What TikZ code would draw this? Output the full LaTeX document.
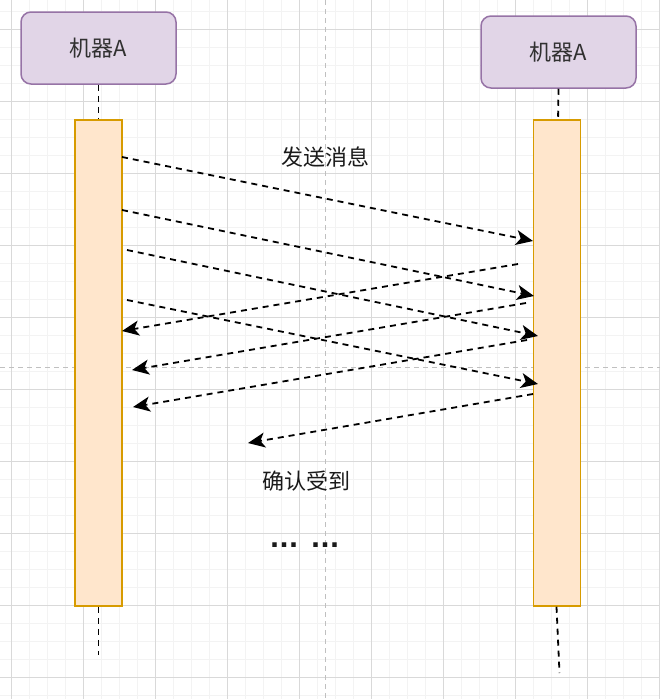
\documentclass[tikz,border=0pt]{standalone}
\usepackage{fontspec}
\usetikzlibrary{arrows.meta}
\newfontfamily\cjk{Noto Sans CJK SC}
\newfontfamily\dvs{DejaVu Sans}
\definecolor{gridmaj}{HTML}{D9D9D9}
\definecolor{gridmin}{HTML}{F3F3F3}
\definecolor{centerc}{HTML}{C0C0C0}
\definecolor{boxfill}{HTML}{E1D5E7}
\definecolor{boxdraw}{HTML}{9673A6}
\definecolor{barfill}{HTML}{FFE6CC}
\definecolor{bardraw}{HTML}{D79B00}
\definecolor{txt}{HTML}{1A1A1A}
\tikzset{
  machine/.style={draw=boxdraw, fill=boxfill, line width=1.5pt, rounded corners=10pt,
    minimum width=155pt, minimum height=72pt, inner sep=0pt,
    font=\cjk\fontsize{22}{24}\selectfont, text=txt!90!white},
  actbar/.style={draw=bardraw, fill=barfill, line width=1.5pt,
    minimum width=47pt, minimum height=486pt, inner sep=0pt},
  lifeline/.style={line width=1.8pt, dash pattern=on 6pt off 5pt},
  msg/.style={line width=1.8pt, dash pattern=on 6pt off 5pt,
    -{Stealth[length=17pt, width=15pt, inset=4.5pt]}},
  label/.style={font=\cjk\fontsize{22}{24}\selectfont, text=txt, inner sep=0pt},
}
\begin{document}
\begin{tikzpicture}[x=1pt,y=-1pt]
\useasboundingbox (0,0) rectangle (660,699);
% grid
\begin{scope}
\clip (0,0) rectangle (660,699);
\foreach \i in {0,...,36} {
  \pgfmathsetmacro{\xx}{11.7+18*\i}
  \draw[gridmin, line width=1pt] (\xx,0) -- (\xx,699);
}
\foreach \i in {0,...,38} {
  \pgfmathsetmacro{\yy}{11.3+18*\i}
  \draw[gridmin, line width=1pt] (0,\yy) -- (660,\yy);
}
\foreach \i in {0,...,9} {
  \pgfmathsetmacro{\xx}{11.7+72*\i}
  \draw[gridmaj, line width=1pt] (\xx,0) -- (\xx,699);
}
\foreach \i in {0,...,9} {
  \pgfmathsetmacro{\yy}{29.3+72*\i}
  \draw[gridmaj, line width=1pt] (0,\yy) -- (660,\yy);
}
\draw[centerc, line width=1pt, dash pattern=on 5pt off 4pt] (325.5,0) -- (325.5,699);
\draw[centerc, line width=1pt, dash pattern=on 5pt off 4pt] (0,367) -- (660,367);
\end{scope}

% machines
\node[machine] (mL) at (98.5,48) {机器A};
\node[machine] (mR) at (558.5,52) {机器A};

% lifelines
\coordinate (lLtop) at (98.5,120);
\coordinate (lRtop) at (558,123);
\coordinate (lLbot) at (98.5,655);
\coordinate (lRbot) at (559.5,673);
\draw[lifeline] (mL.south) -- (lLtop);
\draw[lifeline] (mR.south) -- (lRtop);

% activation bars
\node[actbar] (bL) at (98.5,363) {};
\node[actbar] (bR) at (557,363) {};
\draw[lifeline] (bL.south) -- (lLbot);
\draw[lifeline] ([xshift=-0.5pt]bR.south) -- (lRbot);

% message endpoints
\coordinate (a1s) at (122,157); \coordinate (a1e) at (533,241);
\coordinate (a2s) at (122,210); \coordinate (a2e) at (534,296);
\coordinate (a3s) at (127,250); \coordinate (a3e) at (538,336);
\coordinate (a4s) at (127,300); \coordinate (a4e) at (538,384);
\coordinate (b1s) at (518,264); \coordinate (b1e) at (122,331);
\coordinate (b2s) at (526,303); \coordinate (b2e) at (132,370);
\coordinate (b3s) at (527,340); \coordinate (b3e) at (133,407);
\coordinate (b4s) at (533,394); \coordinate (b4e) at (248,443);

\draw[msg] (a1s) -- (a1e);
\draw[msg] (a2s) -- (a2e);
\draw[msg] (a3s) -- (a3e);
\draw[msg] (a4s) -- (a4e);
\draw[msg] (b1s) -- (b1e);
\draw[msg] (b2s) -- (b2e);
\draw[msg] (b3s) -- (b3e);
\draw[msg] (b4s) -- (b4e);

% labels
\node[label] (send) at (325,157) {发送消息};
\node[label] (ack) at (306.5,481) {确认受到};
\node[inner sep=0pt, text=txt, font=\dvs\bfseries\fontsize{25}{28}\selectfont] (dots) at (304.5,545) {...\hspace{0.5em}...};
\end{tikzpicture}
\end{document}
